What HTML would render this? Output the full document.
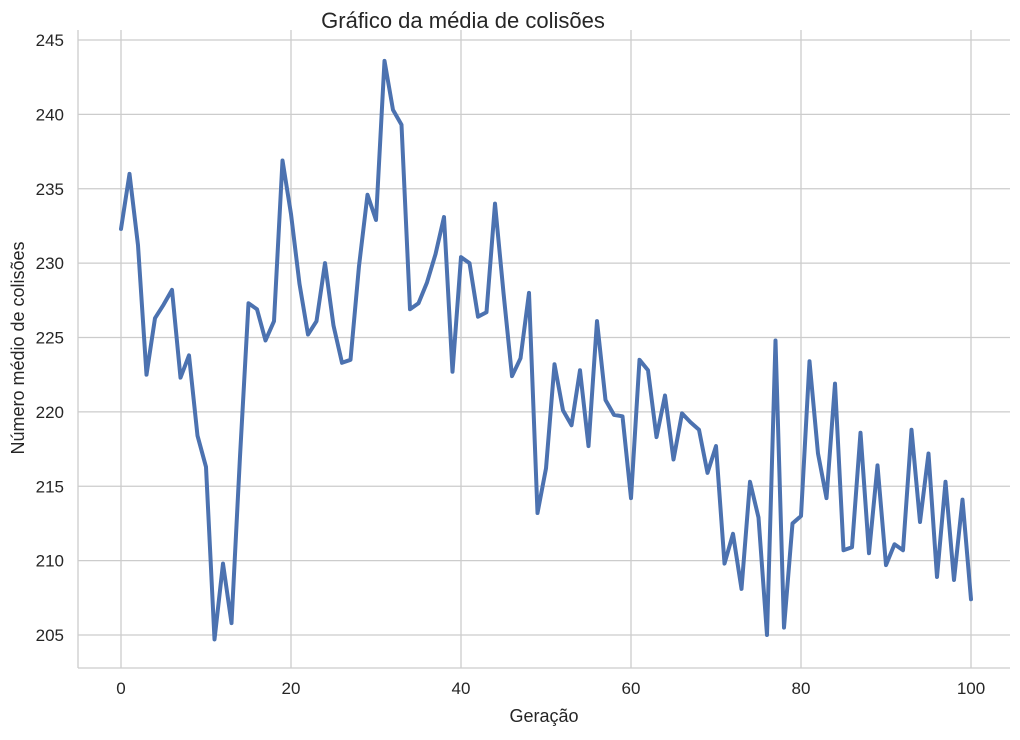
<!DOCTYPE html>
<html><head><meta charset="utf-8"><style>
body{margin:0;background:#fff;font-family:"Liberation Sans",sans-serif;}
svg text{font-family:"Liberation Sans",sans-serif;fill:#262626;}
</style></head><body>
<svg width="1020" height="735" id="c">
<text x="463" y="28" font-size="22" text-anchor="middle">Gráfico da média de colisões</text>
<text x="544" y="722" font-size="18" text-anchor="middle">Geração</text>
<text transform="translate(24,348) rotate(-90)" font-size="18" text-anchor="middle">Número médio de colisões</text>
<g id="grid"></g><g id="ticks"></g><g id="series"></g>
<line x1="78" y1="30" x2="78" y2="668" stroke="#ccc" stroke-width="1.3"/>
<line x1="78" y1="668" x2="1010" y2="668" stroke="#ccc" stroke-width="1.3"/>
</svg>
<script>
const generations=[...Array(101).keys()];
const meanCollisions=[232.3,236.0,231.2,222.5,226.3,227.2,228.2,222.3,223.8,218.4,216.3,204.7,209.8,205.8,217.0,227.3,226.9,224.8,226.1,236.9,233.3,228.6,225.2,226.1,230.0,225.8,223.3,223.5,229.8,234.6,232.9,243.6,240.3,239.3,226.9,227.3,228.7,230.6,233.1,222.7,230.4,230.0,226.4,226.7,234.0,228.0,222.4,223.6,228.0,213.2,216.2,223.2,220.1,219.1,222.8,217.7,226.1,220.8,219.8,219.7,214.2,223.5,222.8,218.3,221.1,216.8,219.9,219.3,218.8,215.9,217.7,209.8,211.8,208.1,215.3,212.9,205.0,224.8,205.5,212.5,213.0,223.4,217.2,214.2,221.9,210.7,210.9,218.6,210.5,216.4,209.7,211.1,210.7,218.8,212.6,217.2,208.9,215.3,208.7,214.1,207.4];
const xTicks=[0,20,40,60,80,100];
const yTicks=[205,210,215,220,225,230,235,240,245];
const X=v=>121+v*8.5, Y=v=>635-(v-205)*14.875;
const ns="http://www.w3.org/2000/svg";
const grid=document.getElementById('grid'),ticks=document.getElementById('ticks'),ser=document.getElementById('series');
function mk(tag,attrs,parent){const e=document.createElementNS(ns,tag);for(const k in attrs)e.setAttribute(k,attrs[k]);parent.appendChild(e);return e;}
xTicks.forEach(t=>{
 const l=mk('line',{x1:X(t),x2:X(t),y1:30,y2:668,stroke:'#cccccc','stroke-width':1.3},grid);
 
 
 const tx=mk('text',{x:X(t),y:694,'font-size':17,'text-anchor':'middle'},ticks);tx.textContent=t;
 
 
});
yTicks.forEach(t=>{
 const l=mk('line',{x1:78,x2:1010,y1:Y(t),y2:Y(t),stroke:'#cccccc','stroke-width':1.3},grid);
 
 
 const tx=mk('text',{x:64,y:Y(t)+6,'font-size':17,'text-anchor':'end'},ticks);tx.textContent=t;
 
 
});
const p=mk('polyline',{points:generations.map((g,i)=>X(g)+','+Y(meanCollisions[i])).join(' '),fill:'none',stroke:'#4c72b0','stroke-width':4,'stroke-linejoin':'round','stroke-linecap':'round'},ser);


</script>
</body></html>
